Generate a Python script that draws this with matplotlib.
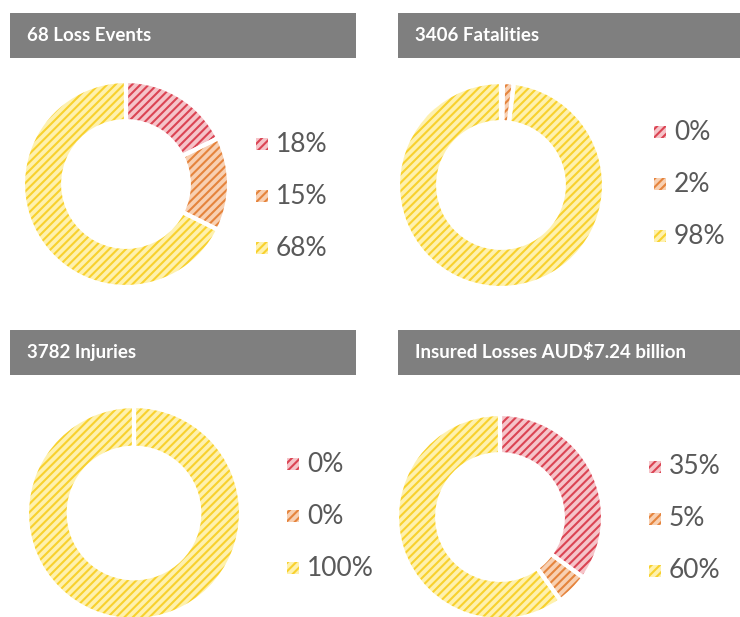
import matplotlib
matplotlib.use("Agg")
import matplotlib.pyplot as plt
from matplotlib.patches import Rectangle

titles = ["68 Loss Events", "3406 Fatalities", "3782 Injuries", "Insured Losses AUD$7.24 billion"]
values = [
    [12, 10, 46],
    [0.3, 1.7, 98.0],
    [0.0, 0.0, 100.0],
    [35, 5, 60],
]
labels = [
    ["18%", "15%", "68%"],
    ["0%", "2%", "98%"],
    ["0%", "0%", "100%"],
    ["35%", "5%", "60%"],
]
base_colors = ["#F5C4C9", "#F8D0B2", "#FEF1AE"]
hatch_colors = ["#DB4453", "#E5843D", "#F8D12E"]
HATCH = '////'

W, H = 740, 617
plt.rcParams['hatch.linewidth'] = 1.5
fig = plt.figure(figsize=(W / 100, H / 100), dpi=100)

def fr(x, y, w, h):
    return [x / W, 1 - (y + h) / H, w / W, h / H]

bars = [(10, 13, 346, 45), (398, 13, 344, 45), (10, 330, 346, 45), (398, 330, 344, 45)]
centers = [(126, 184, 103), (501, 185, 103), (134, 513, 107), (500, 517, 103)]
legends = [(262, 144, 52), (660, 132, 52), (293, 464, 52), (655, 467, 52)]

for i in range(4):
    bx, by, bw, bh = bars[i]
    tax = fig.add_axes(fr(bx, by, bw, bh))
    tax.set_xlim(0, 1); tax.set_ylim(0, 1); tax.axis('off')
    tax.add_patch(Rectangle((0, 0), 1, 1, color="#7F7F7F", transform=tax.transAxes))
    tax.text(17 / bw, 0.5, titles[i], color="white", fontsize=13.5, fontweight='bold',
             va='center', ha='left', family=['Lato', 'DejaVu Sans'])

    cx, cy, r = centers[i]
    ax = fig.add_axes(fr(cx - r, cy - r, 2 * r, 2 * r))
    vals = values[i]
    wedges, _ = ax.pie(vals, startangle=90, counterclock=False, radius=1,
                       colors=base_colors,
                       wedgeprops=dict(width=0.39, linewidth=0))
    for w, hc in zip(wedges, hatch_colors):
        w.set_hatch(HATCH)
        w.set_edgecolor(hc)
        w.set_linewidth(0)
    ax.pie(vals, startangle=90, counterclock=False, radius=1,
           colors=['none'] * 3,
           wedgeprops=dict(width=0.39, linewidth=3, edgecolor='white', fill=False))
    ax.set_xlim(-1.0, 1.0); ax.set_ylim(-1.0, 1.0)
    ax.set_aspect('equal')
    ax.axis('off')

    lx, ly, dy = legends[i]
    for k in range(3):
        yy = ly + k * dy
        sq = fig.add_axes(fr(lx - 6, yy - 6, 12, 12))
        sq.axis('off')
        sq.add_patch(Rectangle((0, 0), 1, 1, facecolor=base_colors[k], edgecolor=hatch_colors[k],
                               hatch=HATCH, linewidth=0, transform=sq.transAxes))
        fig.text((lx + 14) / W, 1 - yy / H, labels[i][k], fontsize=19, color="#595959",
                 va='center', ha='left', family=['Lato', 'DejaVu Sans'])

fig.savefig("out.png", dpi=100)
